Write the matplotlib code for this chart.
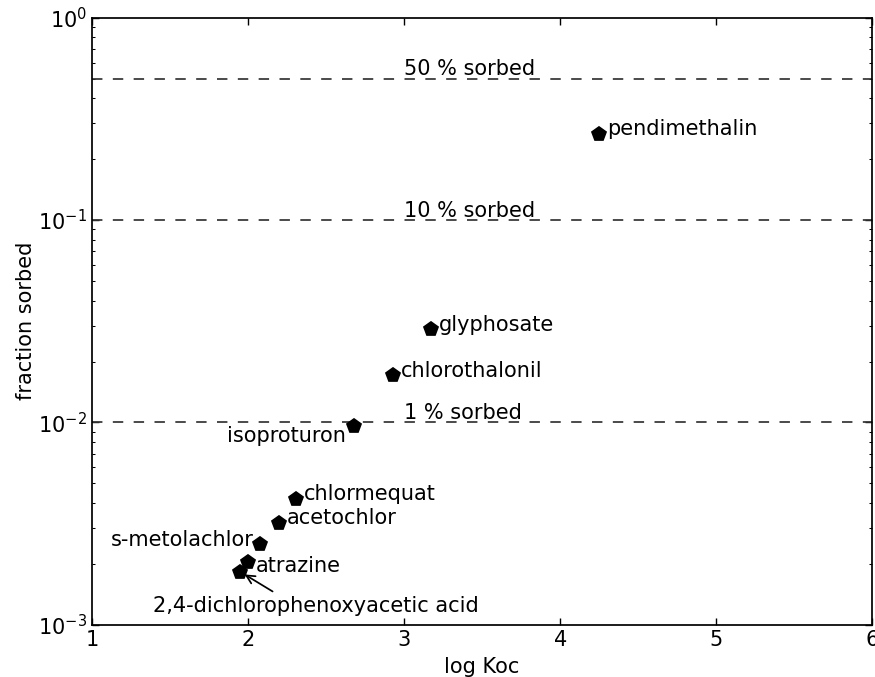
import matplotlib.pyplot as plt

# datos
nombres = ["pendimethalin", "glyphosate", "chlorothalonil", "isoproturon",
           "chlormequat", "acetochlor", "s-metolachlor", "atrazine",
           "2,4-dichlorophenoxyacetic acid"]
log_koc = [4.25, 3.17, 2.93, 2.68, 2.31, 2.20, 2.08, 2.00, 1.95]
frac_sorbed = [0.267, 0.029, 0.0172, 0.0096, 0.0042, 0.0032, 0.0025, 0.00205, 0.00183]

niveles = [0.5, 0.1, 0.01]
etiquetas_niveles = ["50 % sorbed", "10 % sorbed", "1 % sorbed"]

plt.rcParams['font.family'] = 'DejaVu Sans'
plt.rcParams['font.size'] = 12
plt.rcParams['axes.unicode_minus'] = False
plt.rcParams['xtick.direction'] = 'in'
plt.rcParams['ytick.direction'] = 'in'
plt.rcParams['xtick.top'] = True
plt.rcParams['ytick.right'] = True
plt.rcParams['xtick.major.size'] = 4
plt.rcParams['ytick.major.size'] = 4
plt.rcParams['xtick.minor.size'] = 2
plt.rcParams['ytick.minor.size'] = 2
plt.rcParams['xtick.major.pad'] = 3
plt.rcParams['ytick.major.pad'] = 3
plt.rcParams['axes.linewidth'] = 1

fig = plt.figure(figsize=(7.0, 5.416), dpi=125)
ax = fig.add_axes([0.105, 0.077, 0.892, 0.897])

# lineas de referencia
for nivel, texto in zip(niveles, etiquetas_niveles):
    ax.axhline(nivel, color='0.2', linestyle='--', linewidth=1, dashes=(6, 6))
    ax.annotate(texto, (3.0, nivel), xytext=(0, 2), textcoords='offset points',
                ha='left', va='baseline')

ax.plot(log_koc, frac_sorbed, 'p', color='black', markersize=8, zorder=5)

# etiquetas de los puntos
for n, x, y in zip(nombres, log_koc, frac_sorbed):
    if n == "isoproturon":
        ax.annotate(n, (x, y), xytext=(-4.5, -9), textcoords='offset points',
                    ha='right', va='baseline')
    elif n == "s-metolachlor":
        ax.annotate(n, (x, y), xytext=(-4, -1), textcoords='offset points',
                    ha='right', va='baseline')
    elif n == "atrazine":
        ax.annotate(n, (x, y), xytext=(4.5, -6), textcoords='offset points',
                    ha='left', va='baseline')
    elif n.startswith("2,4"):
        ax.annotate(n, (x, y), xytext=(1.39, 0.00116), textcoords='data',
                    ha='left', va='baseline',
                    arrowprops=dict(arrowstyle='->', color='black', lw=1,
                                    shrinkA=1, shrinkB=3,
                                    relpos=(0.39, 1.0)))
    else:
        ax.annotate(n, (x, y), xytext=(4.5, -1), textcoords='offset points',
                    ha='left', va='baseline')

ax.set_yscale('log')
ax.set_xlim(1, 6)
ax.set_ylim(1e-3, 1)
ax.set_xticks([1, 2, 3, 4, 5, 6])
ax.set_xlabel('log Koc')
ax.set_ylabel('fraction sorbed', labelpad=1)

fig.savefig('out.png', dpi=125)
